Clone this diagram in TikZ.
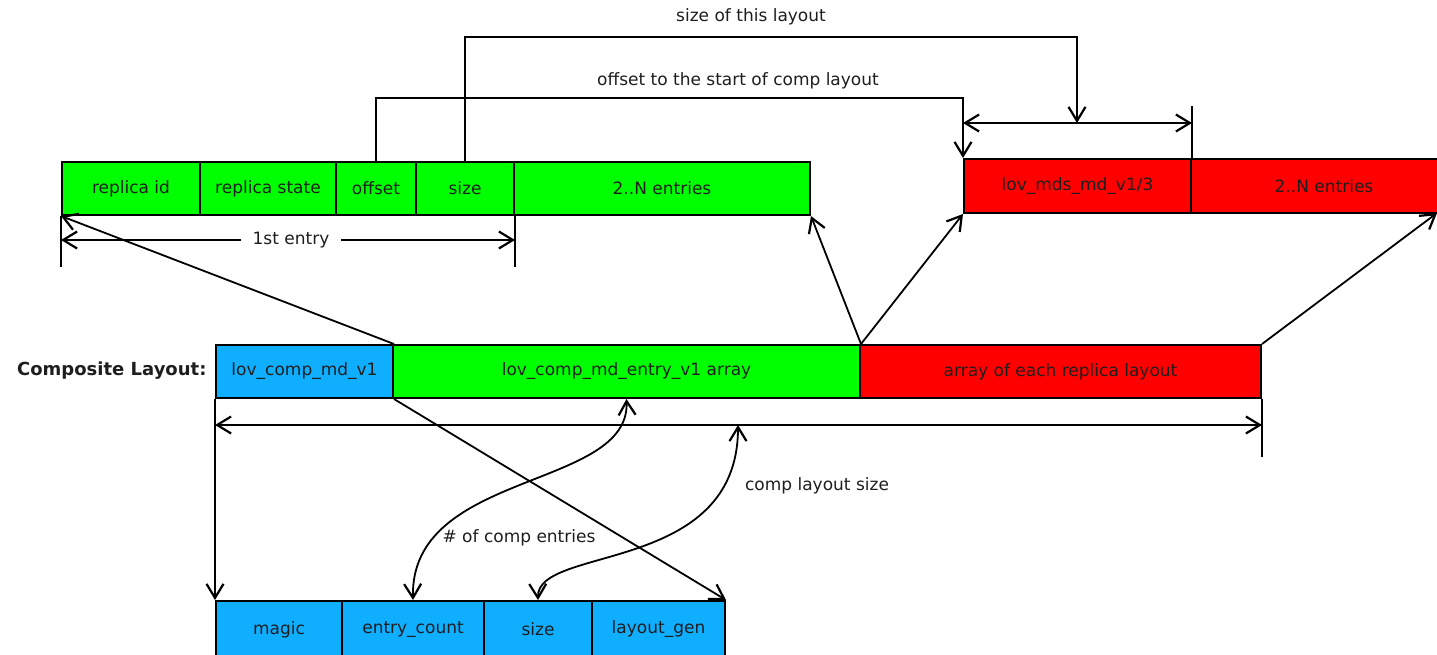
\documentclass[tikz,border=0pt]{standalone}
\usepackage{fontspec}
\setmainfont{DejaVu Sans}
\usetikzlibrary{arrows.meta,calc}
\definecolor{cgreen}{RGB}{0,255,0}
\definecolor{cred}{RGB}{255,0,0}
\definecolor{cblue}{RGB}{16,174,255}
\definecolor{ctext}{RGB}{30,30,30}
\begin{document}
\begin{tikzpicture}[x=1pt,y=-1pt,
  every node/.style={font=\fontsize{17}{20}\selectfont, text=ctext},
  cell/.style={draw=black, line width=2pt, anchor=north west, inner sep=0pt, minimum height=#1},
  cell/.default=53,
  line/.style={draw=black, line width=1.8pt},
  barb/.tip={Straight Barb[length=14pt,width=17pt,line width=2.2pt]},
  tip/.style={line, -barb},
  dtip/.style={line, barb-barb}
]
\clip (0,0) rectangle (1437,654);
\fill[white] (0,0) rectangle (1437,654);

% top green entry row
\node[cell, fill=cgreen, minimum width=138] (rid) at (61,161) {replica id};
\node[cell, fill=cgreen, minimum width=136] (rst) at (199,161) {replica state};
\node[cell, fill=cgreen, minimum width=80] (off) at (335,161) {offset};
\node[cell, fill=cgreen, minimum width=98] (sz) at (415,161) {size};
\node[cell, fill=cgreen, minimum width=296] (ent) at (513,161) {2..N entries};

% top red row
\node[cell=54, fill=cred, minimum width=227] (rm) at (963,158) {lov\_mds\_md\_v1/3};
\node[cell=54, fill=cred, minimum width=266] (rn) at (1190,158) {2..N entries};

% middle row
\node[cell, fill=cblue, minimum width=177] (cb) at (215,344) {lov\_comp\_md\_v1};
\node[cell, fill=cgreen, minimum width=467] (cg) at (392,344) {lov\_comp\_md\_entry\_v1 array};
\node[cell, fill=cred, minimum width=401] (cr) at (859,344) {array of each replica layout};
\node[anchor=east, font=\bfseries\fontsize{18}{21}\selectfont] (cl) at (210,371) {Composite Layout:};

% bottom row
\node[cell=57, fill=cblue, minimum width=126] (mg) at (215,600) {magic};
\node[cell=57, fill=cblue, minimum width=142] (ec) at (341,600) {entry\_count};
\node[cell=57, fill=cblue, minimum width=108] (bs) at (483,600) {size};
\node[cell=57, fill=cblue, minimum width=133] (lg) at (591,600) {layout\_gen};

% 1st entry dimension
\draw[line] (rid.south west) -- ++(0,51);
\draw[line] (sz.south east) -- ++(0,51);
\coordinate (e1l) at (rid.south west |- 0,240);
\coordinate (e1r) at (sz.south east |- 0,240);
\draw[dtip] (e1l) -- (e1r);
\node[fill=white, inner xsep=12pt, inner ysep=2pt] (e1t) at (291,240) {1st entry};

% offset connector
\coordinate (offtop) at (off.north |- 0,98);
\draw[tip] (off.north) -- (offtop) -| (rm.north west);
\node (offt) at (738,81) {offset to the start of comp layout};

% size connector and dimension
\coordinate (rdl) at (rm.north west |- 0,123);
\coordinate (rdr) at (rm.north east |- 0,123);
\draw[line] (rm.north east) -- ++(0,-52);
\draw[dtip] (rdl) -- (rdr);
\coordinate (sztop) at (sz.north |- 0,37);
\coordinate (rdm) at (1077,123);
\draw[tip] (sz.north) -- (sztop) -| (rdm);
\node (szt) at (751,17) {size of this layout};

% links from composite layout to replica
\draw[tip] (cb.north east) -- (rid.south west);
\draw[tip] (cg.north east) -- (ent.south east);
\draw[tip] (cg.north east) -- (rm.south west);
\coordinate (rnb) at (1437,213);
\draw[tip] (cr.north east) -- (rnb);

% comp layout size dimension
\draw[line] (cr.south east) -- ++(0,58);
\coordinate (cdl) at (cb.south west |- 0,425);
\coordinate (cdr) at (cr.south east |- 0,425);
\draw[dtip] (cdl) -- (cdr);
\draw[tip] (cb.south west) -- (mg.north west);
\draw[tip] (cb.south east) -- (lg.north east);

% curved arrows
\draw[dtip] (ec.north) .. controls (410,470) and (630,490) .. (cg.south);
\coordinate (cdm) at (738,425);
\draw[dtip] (bs.north) .. controls (537,545) and (738,575) .. (cdm);
\node (nce) at (519,538) {\# of comp entries};
\node (cls) at (817,486) {comp layout size};
\end{tikzpicture}
\end{document}
